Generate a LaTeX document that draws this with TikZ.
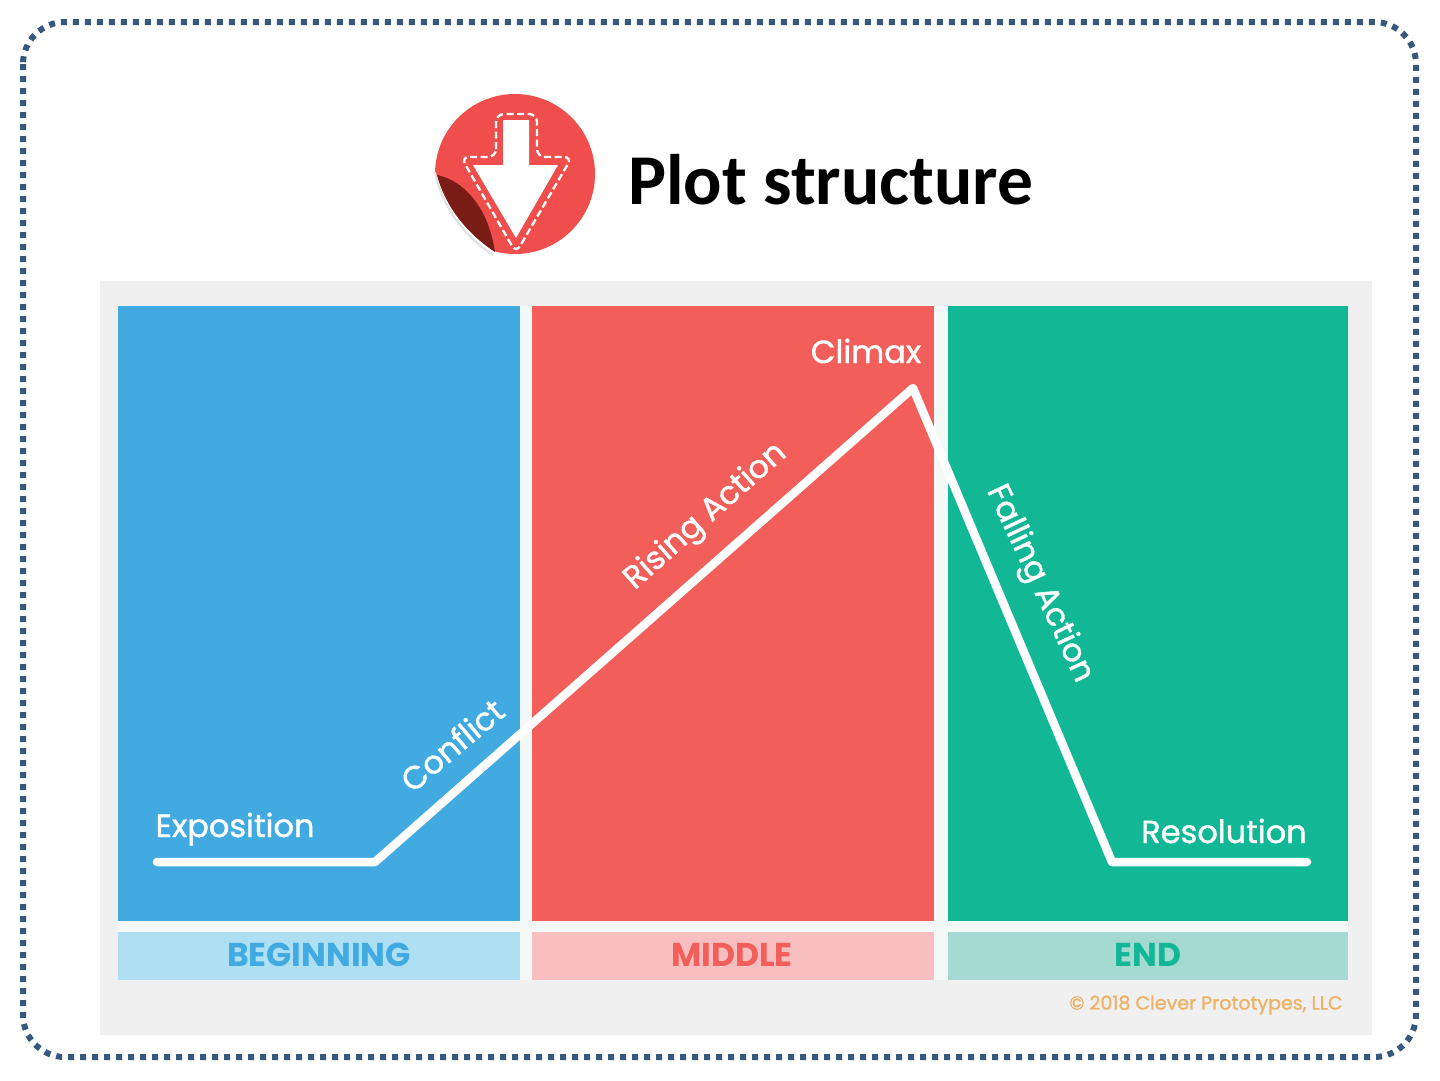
\documentclass[tikz,border=0pt]{standalone}
\usepackage{fontspec}
\setmainfont{Poppins}
\newfontfamily\titlefont{Carlito}
\newfontfamily\labfont[FakeBold=1.2]{Poppins}
\usetikzlibrary{calc}
\definecolor{dotblue}{HTML}{36587F}
\definecolor{panelbg}{HTML}{F0F0F1}
\definecolor{gapc}{HTML}{F4F8F7}
\definecolor{bluep}{HTML}{41AAE0}
\definecolor{redp}{HTML}{F25F5A}
\definecolor{greenp}{HTML}{12B896}
\definecolor{blues}{HTML}{AEDFF3}
\definecolor{reds}{HTML}{F9BEBF}
\definecolor{greens}{HTML}{A5DAD2}
\definecolor{stick}{HTML}{EF4E4C}
\definecolor{curl}{HTML}{7A1C16}
\definecolor{copyc}{HTML}{EDB266}
\tikzset{
  panelbox/.style={anchor=north west,inner sep=0pt,minimum width=#1,minimum height=615pt},
  stripbox/.style={anchor=north west,inner sep=0pt,minimum width=#1,minimum height=48pt},
  lab/.style={text=white,font=\labfont\fontsize{32}{32}\selectfont,inner sep=0pt},
  striplab/.style={font=\fontsize{33}{33}\selectfont\bfseries,inner sep=0pt}
}
\begin{document}
\begin{tikzpicture}[x=1pt,y=-1pt]
\useasboundingbox (0,0) rectangle (1440,1080);
\fill[white] (0,0) rectangle (1440,1080);
\draw[dotblue,line width=6pt,dash pattern=on 6pt off 6pt,rounded corners=42pt] (23,22) rectangle (1416,1057);
% sticker
\fill[stick] (515,174) circle (80);
\fill[white] (437,175) .. controls (445,205) and (465,232) .. (495,252) -- (495,262) -- (425,262) -- (425,175) -- cycle;
\draw[black!12,line width=2pt] (435,172) .. controls (442,205) and (462,235) .. (493,255);
\fill[curl] (437,175) .. controls (462,180) and (488,205) .. (495,252) .. controls (465,232) and (445,205) .. cycle;
\fill[white] (503,120) -- (529,120) -- (529,165) -- (558,165) -- (516,238) -- (473,165) -- (503,165) -- cycle;
\draw[white,line width=2.3pt,dash pattern=on 7pt off 3.5pt,rounded corners=8pt] (496,157) -- (496,114) -- (537,114) -- (537,157) -- (572,157) -- (516,253) -- (461,157) -- cycle;
\node[anchor=west,inner sep=0pt,font=\titlefont\fontsize{71.5}{72}\selectfont\bfseries] (title) at (628,180) {Plot structure};
% panels
\fill[panelbg] (100,281) rectangle (1372,1035);
\fill[gapc] (118,306) rectangle (1348,980);
\node[panelbox=402pt,fill=bluep] (pa) at (118,306) {};
\node[panelbox=402pt,fill=redp] (pb) at (532,306) {};
\node[panelbox=400pt,fill=greenp] (pc) at (948,306) {};
\node[stripbox=402pt,fill=blues] (sa) at (118,932) {};
\node[stripbox=402pt,fill=reds] (sb) at (532,932) {};
\node[stripbox=400pt,fill=greens] (sc) at (948,932) {};
\node[striplab,text=bluep] (ta) at (319,955) {BEGINNING};
\node[striplab,text=redp] (tb) at (732,955) {MIDDLE};
\node[striplab,text=greenp] (tc) at (1148,955) {END};
% curve
\coordinate (p1) at (157,862);
\coordinate (p2) at (375,862);
\coordinate (p3) at (913,388);
\coordinate (p4) at (1112,862);
\coordinate (p5) at (1307,862);
\draw[white,line width=8.5pt,line cap=round,line join=round] (p1) -- (p2) -- (p3) -- (p4) -- (p5);
\node[lab] (l1) at (235,829) {Exposition};
\node[lab,rotate=40] (l2) at (452,745) {Conflict};
\node[lab,rotate=41.5] (l3) at (706,517) {Rising Action};
\node[lab] (l4) at (866,351) {Climax};
\node[lab,rotate=-65] (l5) at (1039,584) {Falling Action};
\node[lab] (l6) at (1224,831) {Resolution};
\node[text=copyc,inner sep=0pt,font=\labfont\fontsize{19}{19}\selectfont] (cp) at (1206,1005) {© 2018 Clever Prototypes, LLC};
\end{tikzpicture}
\end{document}
